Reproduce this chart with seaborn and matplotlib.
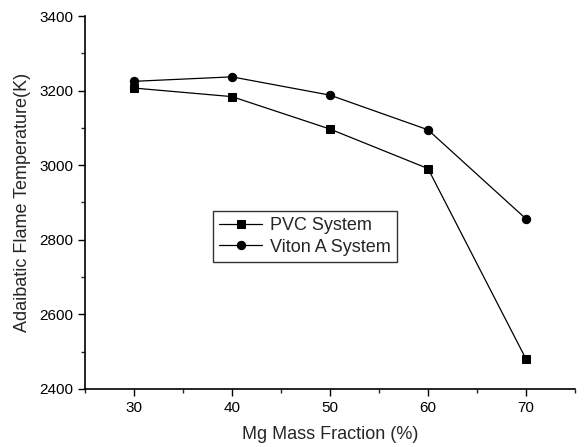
import matplotlib
matplotlib.use("Agg")
import matplotlib.pyplot as plt
import seaborn as sns
import pandas as pd
from matplotlib.ticker import MultipleLocator

mg_fraction = [30, 40, 50, 60, 70]
pvc_temp = [3207, 3184, 3097, 2991, 2480]
viton_temp = [3225, 3237, 3188, 3095, 2856]
series_names = ["PVC System", "Viton A System"]

df = pd.DataFrame({
    "x": mg_fraction * 2,
    "y": pvc_temp + viton_temp,
    "s": [series_names[0]] * 5 + [series_names[1]] * 5,
})

sns.set_style("ticks")
plt.rcParams['font.family'] = ['Liberation Sans', 'DejaVu Sans']

fig = plt.figure(figsize=(5.85, 4.47), dpi=100)
ax = fig.add_axes([0.145, 0.130, 0.838, 0.834])

sns.lineplot(data=df, x="x", y="y", hue="s", style="s",
             markers={series_names[0]: "s", series_names[1]: "o"},
             dashes=False, palette=["black", "black"], linewidth=0.9,
             markersize=6, markeredgecolor="black", ax=ax)

ax.set_xlim(25, 75)
ax.set_ylim(2400, 3400)
ax.xaxis.set_major_locator(MultipleLocator(10))
ax.xaxis.set_minor_locator(MultipleLocator(5))
ax.yaxis.set_major_locator(MultipleLocator(200))
ax.yaxis.set_minor_locator(MultipleLocator(100))
ax.tick_params(which="major", direction="out", length=5, width=1, labelsize=11, colors="black")
ax.tick_params(which="minor", direction="out", length=3, width=1)
for side in ["top", "right"]:
    ax.spines[side].set_visible(False)
for side in ["left", "bottom"]:
    ax.spines[side].set_linewidth(1.2)
    ax.spines[side].set_color("black")

ax.set_xlabel("Mg Mass Fraction (%)", fontsize=13, labelpad=8)
ax.set_ylabel("Adaibatic Flame Temperature(K)", fontsize=13, labelpad=6)

leg = ax.legend(loc="lower left", bbox_to_anchor=(0.261, 0.34), borderaxespad=0,
                fontsize=13, frameon=True, fancybox=False, edgecolor="black",
                handlelength=2.4, handletextpad=0.4, borderpad=0.35,
                labelspacing=0.25)
leg.get_frame().set_linewidth(1.0)
leg.set_title(None)

fig.savefig("out.png", dpi=100)
